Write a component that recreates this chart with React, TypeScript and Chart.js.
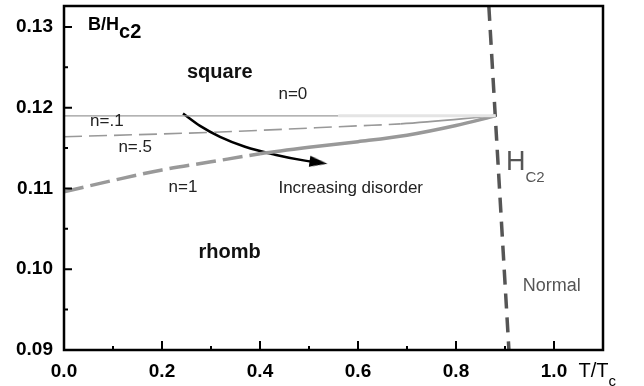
import React, { useEffect, useRef } from "react";
import { Chart, registerables } from "chart.js";

Chart.register(...registerables);

// ---- axis ticks ----
const xMajorTicks = [0, 0.2, 0.4, 0.6, 0.8, 1.0];
const xMinorTicks = [0.1, 0.3, 0.5, 0.7, 0.9];
const yMajorTicks = [0.09, 0.1, 0.11, 0.12, 0.13];
const yMinorTicks = [0.095, 0.105, 0.115, 0.125];

// ---- series ----
const n0X = [0, 0.56];
const n0Y = [0.119, 0.119];
const n0FaintX = [0.56, 0.881];
const n0FaintY = [0.119, 0.119];
const n05X = [0, 0.319, 0.6, 0.687, 0.881];
const n05Y = [0.1164, 0.117, 0.11776, 0.118, 0.119];
const n1X = [0, 0.1, 0.2, 0.3, 0.4, 0.5, 0.6, 0.7, 0.8, 0.881];
const n1Y = [0.1096, 0.111, 0.1123, 0.1133, 0.1143, 0.1151, 0.1158, 0.1166, 0.1178, 0.119];
const hc2X = [0.867, 0.908];
const hc2Y = [0.1326, 0.09];
const arrowX = [0.2429, 0.2776, 0.3184, 0.3694, 0.4306, 0.4918, 0.5143];
const arrowY = [0.11928, 0.11775, 0.1164, 0.11517, 0.11419, 0.11345, 0.11327];
const arrowTipX = [0.5194];
const arrowTipY = [0.11322];

const X_MIN = 0;
const X_MAX = 1.1;
const Y_MIN = 0.09;
const Y_MAX = 0.1326;

const FONT = '"Liberation Sans", Arial, Helvetica, sans-serif';

const pts = (xs: number[], ys: number[]) => xs.map((x, i) => ({ x, y: ys[i] }));

type Label = {
  text: string;
  sub?: string;
  x: number;
  y: number;
  size: number;
  bold?: boolean;
  color: string;
  subSize?: number;
  subDy?: number;
};

const labels: Label[] = [
  { text: "B/H", sub: "c2", x: 0.049, y: 0.12967, size: 18, bold: true, color: "#000", subSize: 20, subDy: 8 },
  { text: "square", x: 0.251, y: 0.12373, size: 20, bold: true, color: "#111" },
  { text: "n=0", x: 0.4376, y: 0.12107, size: 17, color: "#222" },
  { text: "n=.1", x: 0.0532, y: 0.1178, size: 17, color: "#222" },
  { text: "n=.5", x: 0.111, y: 0.11452, size: 17, color: "#222" },
  { text: "n=1", x: 0.2133, y: 0.10961, size: 17, color: "#222" },
  { text: "Increasing disorder", x: 0.4376, y: 0.1094, size: 17, color: "#222" },
  { text: "rhomb", x: 0.2746, y: 0.10141, size: 20, bold: true, color: "#111" },
  { text: "H", sub: "C2", x: 0.9018, y: 0.11227, size: 27, color: "#555", subSize: 15, subDy: 12 },
  { text: "Normal", x: 0.936, y: 0.09732, size: 18, color: "#555" },
  { text: "T/T", sub: "c", x: 1.05, y: 0.0866, size: 20, color: "#000", subSize: 15, subDy: 9 },
];

const framePlugin = {
  id: "framePlugin",
  afterDatasetsDraw(chart: any) {
    const { ctx, chartArea: a, scales } = chart;
    const xs = scales.x;
    const ys = scales.y;
    ctx.save();
    ctx.strokeStyle = "#000";
    ctx.lineWidth = 2.5;
    ctx.strokeRect(a.left, a.top, a.right - a.left, a.bottom - a.top);
    ctx.lineWidth = 2;
    ctx.beginPath();
    for (const v of xMajorTicks) {
      const p = xs.getPixelForValue(v);
      ctx.moveTo(p, a.bottom);
      ctx.lineTo(p, a.bottom - 9);
    }
    for (const v of xMinorTicks) {
      const p = xs.getPixelForValue(v);
      ctx.moveTo(p, a.bottom);
      ctx.lineTo(p, a.bottom - 4);
    }
    for (const v of yMajorTicks) {
      const p = ys.getPixelForValue(v);
      ctx.moveTo(a.left, p);
      ctx.lineTo(a.left + 8, p);
    }
    for (const v of yMinorTicks) {
      const p = ys.getPixelForValue(v);
      ctx.moveTo(a.left, p);
      ctx.lineTo(a.left + 4, p);
    }
    ctx.stroke();

    ctx.textAlign = "left";
    ctx.textBaseline = "alphabetic";
    for (const l of labels) {
      const px = xs.getPixelForValue(l.x);
      const py = ys.getPixelForValue(l.y);
      ctx.fillStyle = l.color;
      ctx.font = `${l.bold ? "bold " : ""}${l.size}px ${FONT}`;
      ctx.fillText(l.text, px, py);
      if (l.sub) {
        const w = ctx.measureText(l.text).width;
        ctx.font = `${l.bold ? "bold " : ""}${l.subSize}px ${FONT}`;
        ctx.fillText(l.sub, px + w, py + (l.subDy || 0));
      }
    }
    ctx.restore();
  },
};

export default function App() {
  const ref = useRef<HTMLCanvasElement>(null);

  useEffect(() => {
    if (!ref.current) return;
    const head = document.createElement("canvas");
    head.width = 18;
    head.height = 11;
    const hc = head.getContext("2d")!;
    hc.fillStyle = "#000";
    hc.beginPath();
    hc.moveTo(0, 0);
    hc.lineTo(18, 5.5);
    hc.lineTo(0, 11);
    hc.closePath();
    hc.fill();

    const chart = new Chart(ref.current, {
      type: "scatter",
      data: {
        datasets: [
          {
            data: pts(n0FaintX, n0FaintY),
            showLine: true,
            borderColor: "#e4e4e4",
            borderWidth: 3,
            pointRadius: 0,
          },
          {
            data: pts(n0X, n0Y),
            showLine: true,
            borderColor: "#9a9a9a",
            borderWidth: 1.2,
            pointRadius: 0,
          },
          {
            data: pts(n05X, n05Y),
            showLine: true,
            borderColor: "#999",
            borderWidth: 1.6,
            pointRadius: 0,
            cubicInterpolationMode: "monotone",
            segment: {
              borderDash: (c: any) => (c.p0.parsed.x >= 0.687 ? [] : [18, 7]),
            },
          },
          {
            data: pts(n1X, n1Y),
            showLine: true,
            borderColor: "#999",
            borderWidth: 3.5,
            pointRadius: 0,
            cubicInterpolationMode: "monotone",
            segment: {
              borderDash: (c: any) => (c.p0.parsed.x >= 0.4 ? [] : [20, 7]),
            },
          },
          {
            data: pts(hc2X, hc2Y),
            showLine: true,
            borderColor: "#555",
            borderWidth: 3.5,
            borderDash: [15, 9],
            pointRadius: 0,
          },
          {
            data: pts(arrowX, arrowY),
            showLine: true,
            borderColor: "#000",
            borderWidth: 2.5,
            pointRadius: 0,
            cubicInterpolationMode: "monotone",
          },
          {
            data: pts(arrowTipX, arrowTipY),
            showLine: false,
            pointStyle: head as any,
            pointRadius: 5,
            rotation: 8,
          },
        ] as any,
      },
      options: {
        animation: false,
        responsive: false,
        events: [],
        layout: { padding: { left: 0, top: 3, right: 41, bottom: 0 } },
        plugins: { legend: { display: false }, tooltip: { enabled: false } },
        scales: {
          x: {
            type: "linear",
            min: X_MIN,
            max: X_MAX,
            grid: { display: false, drawTicks: false },
            border: { display: false },
            afterBuildTicks: (s: any) => {
              s.ticks = xMajorTicks.map((v) => ({ value: v }));
            },
            afterFit: (s: any) => {
              s.height = 36;
              s.paddingLeft = 0;
              s.paddingRight = 0;
            },
            ticks: {
              padding: 10,
              color: "#000",
              font: { family: FONT, size: 19, weight: "bold" },
              callback: (v: any) => Number(v).toFixed(1),
              maxRotation: 0,
            },
          },
          y: {
            type: "linear",
            min: Y_MIN,
            max: Y_MAX,
            grid: { display: false, drawTicks: false },
            border: { display: false },
            afterBuildTicks: (s: any) => {
              s.ticks = yMajorTicks.map((v) => ({ value: v }));
            },
            afterFit: (s: any) => {
              s.width = 64;
              s.paddingTop = 0;
              s.paddingBottom = 0;
            },
            ticks: {
              padding: 11,
              color: "#000",
              font: { family: FONT, size: 19, weight: "bold" },
              callback: (v: any) => Number(v).toFixed(2),
            },
          },
        },
      } as any,
      plugins: [framePlugin],
    });
    return () => chart.destroy();
  }, []);

  return (
    <div style={{ position: "fixed", left: 0, top: 0, width: 644, height: 386, background: "#fff" }}>
      <canvas ref={ref} width={644} height={386} style={{ display: "block" }} />
    </div>
  );
}
